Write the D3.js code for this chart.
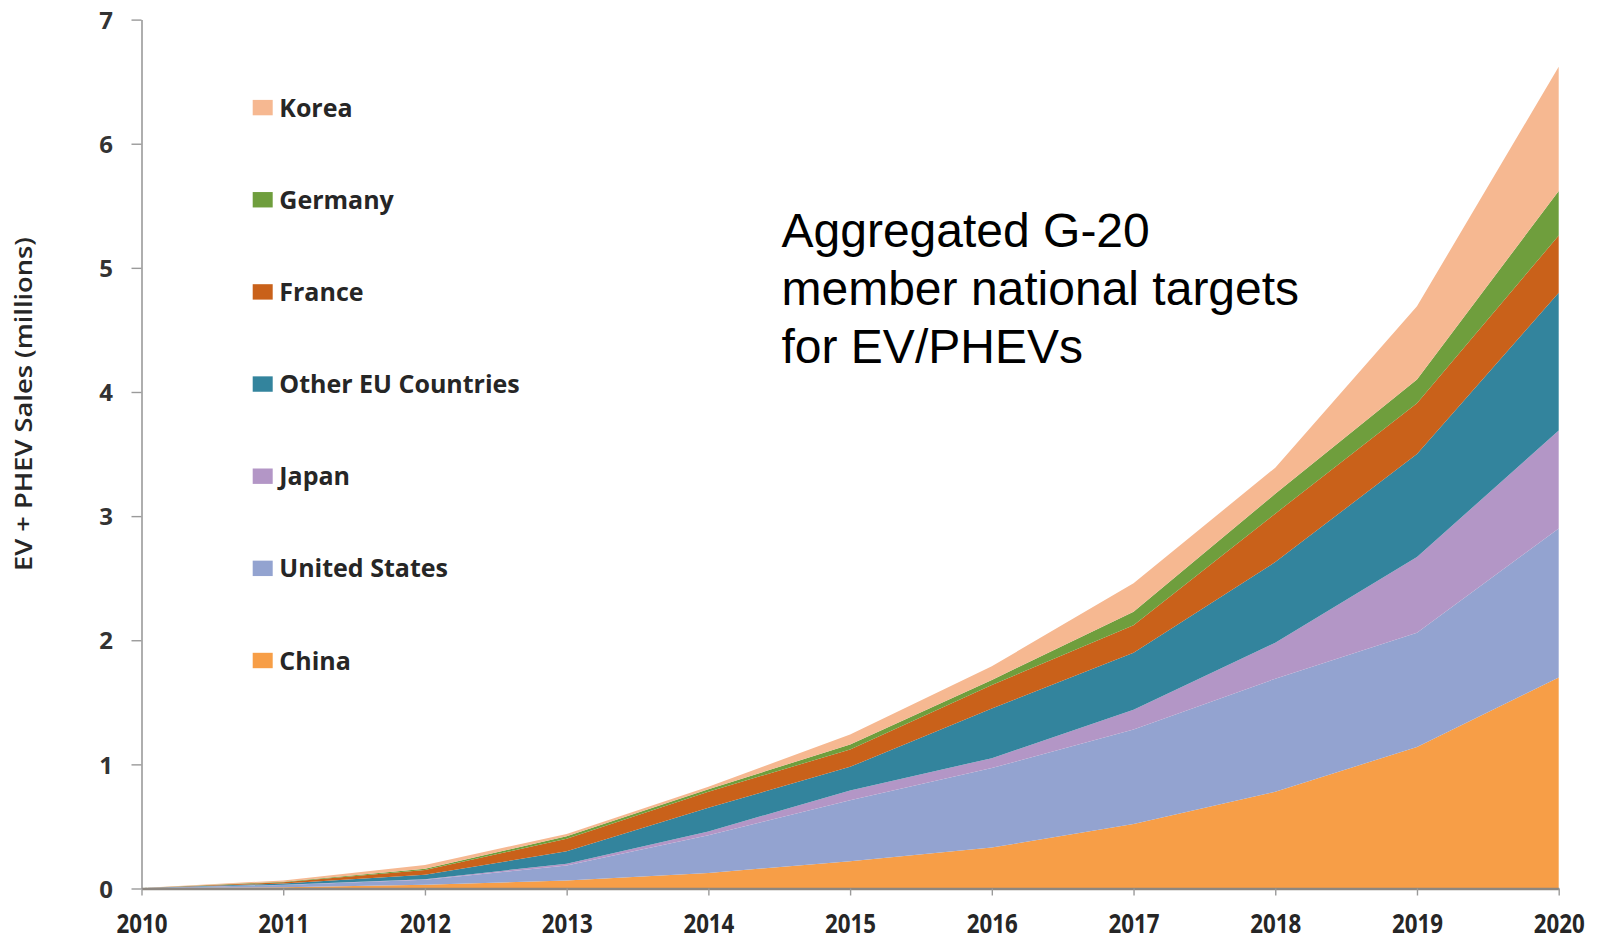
<!DOCTYPE html>
<html>
<head>
<meta charset="utf-8">
<script src="https://cdn.jsdelivr.net/npm/d3@7/dist/d3.min.js"></script>
<style>
  html, body { margin: 0; padding: 0; background: #ffffff; }
  svg { display: block; }
</style>
</head>
<body>
<svg id="chart" width="1600" height="941"></svg>
<script>
// Years on the horizontal axis
const years = [2010, 2011, 2012, 2013, 2014, 2015, 2016, 2017, 2018, 2019, 2020];

// EV + PHEV sales targets per country group (millions), stacked bottom to top
const china          = [0.005, 0.010, 0.030, 0.065, 0.125, 0.22, 0.33, 0.52, 0.78, 1.14, 1.70];
const unitedStates   = [0.000, 0.018, 0.040, 0.120, 0.305, 0.49, 0.64, 0.76, 0.91, 0.92, 1.20];
const japan          = [0.000, 0.002, 0.005, 0.015, 0.030, 0.08, 0.08, 0.16, 0.29, 0.61, 0.79];
const otherEU        = [0.000, 0.010, 0.035, 0.100, 0.190, 0.19, 0.40, 0.46, 0.65, 0.83, 1.11];
const france         = [0.000, 0.010, 0.040, 0.100, 0.130, 0.14, 0.19, 0.22, 0.39, 0.41, 0.46];
const germany        = [0.000, 0.005, 0.010, 0.020, 0.020, 0.04, 0.04, 0.11, 0.16, 0.19, 0.36];
const korea          = [0.000, 0.010, 0.030, 0.020, 0.020, 0.08, 0.11, 0.23, 0.21, 0.59, 1.00];

const seriesNames  = ["China", "United States", "Japan", "Other EU Countries", "France", "Germany", "Korea"];
const seriesValues = [china, unitedStates, japan, otherEU, france, germany, korea];
const seriesColors = ["#f79e47", "#93a3d0", "#b396c6", "#33849d", "#c9611a", "#6f9e3d", "#f6b891"];

const yTicks = [0, 1, 2, 3, 4, 5, 6, 7];
const yTitle = "EV + PHEV Sales (millions)";
const noteLines = ["Aggregated G-20", "member national targets", "for EV/PHEVs"];

// Table for d3.stack
const table = years.map((yr, i) => {
  const row = { year: yr };
  seriesNames.forEach((name, k) => { row[name] = seriesValues[k][i]; });
  return row;
});

const svg = d3.select("#chart");

const x = d3.scaleLinear().domain([2010, 2020]).range([141.5, 1558.7]);
const y = d3.scaleLinear().domain([0, 7]).range([888.5, 19.6]);

const stacked = d3.stack().keys(seriesNames)(table);

const area = d3.area()
  .x(d => x(d.data.year))
  .y0(d => y(d[0]))
  .y1(d => y(d[1]))
  .curve(d3.curveLinear);

svg.append("g")
  .selectAll("path")
  .data(stacked)
  .join("path")
  .attr("d", area)
  .attr("fill", (d, i) => seriesColors[i]);

// Y axis
const yAxis = svg.append("g")
  .attr("transform", `translate(${x(2010)},0)`)
  .call(d3.axisLeft(y).tickValues(yTicks).tickFormat(d3.format("d")).tickSize(10).tickSizeOuter(0));
yAxis.select(".domain").attr("stroke", "#9a9a9a").attr("stroke-width", 1.6);
yAxis.selectAll(".tick line").attr("stroke", "#9a9a9a").attr("stroke-width", 1.4);
yAxis.selectAll(".tick text")
  .attr("x", -28.5)
  .attr("dy", "0.36em")
  .attr("fill", "#333333")
  .style("font-family", "'Open Sans', sans-serif")
  .style("font-weight", 700)
  .style("font-size", "24px");

// X axis
const xAxis = svg.append("g")
  .attr("transform", `translate(0,${y(0)})`)
  .call(d3.axisBottom(x).tickValues(years).tickFormat(d3.format("d")).tickSize(7).tickSizeOuter(0));
xAxis.select(".domain").attr("stroke", "#8d8781").attr("stroke-width", 2.6);
xAxis.selectAll(".tick line").attr("stroke", "#9a9a9a").attr("stroke-width", 1.4);
xAxis.selectAll(".tick text")
  .attr("y", 44)
  .attr("dy", 0)
  .attr("fill", "#262626")
  .attr("textLength", 51)
  .attr("lengthAdjust", "spacingAndGlyphs")
  .style("font-family", "'Open Sans', sans-serif")
  .style("font-weight", 700)
  .style("font-size", "27px");

// Y axis title
svg.append("text")
  .attr("transform", "translate(22.5,404) rotate(-90)")
  .attr("text-anchor", "middle")
  .attr("dominant-baseline", "central")
  .attr("fill", "#262626")
  .attr("textLength", 334)
  .attr("lengthAdjust", "spacingAndGlyphs")
  .style("font-family", "'Open Sans', sans-serif")
  .style("font-weight", 600)
  .style("font-size", "24px")
  .text(yTitle);

// Legend (top to bottom: Korea ... China)
const legendOrder = seriesNames.map((n, i) => ({ name: n, color: seriesColors[i] })).reverse();
const legend = svg.append("g");
const legendItems = legend.selectAll("g")
  .data(legendOrder)
  .join("g")
  .attr("transform", (d, i) => `translate(252.7,${107.6 + i * 92.15})`);
legendItems.append("rect")
  .attr("x", 0).attr("y", -7.7)
  .attr("width", 20).attr("height", 15.4)
  .attr("fill", d => d.color);
legendItems.append("text")
  .attr("x", 26.6).attr("y", 9)
  .attr("fill", "#262626")
  .style("font-family", "'Open Sans', sans-serif")
  .style("font-weight", 700)
  .style("font-size", "25px")
  .text(d => d.name);

// Annotation
svg.append("g")
  .selectAll("text")
  .data(noteLines)
  .join("text")
  .attr("x", 781.5)
  .attr("y", (d, i) => 247 + i * 58)
  .attr("fill", "#000000")
  .style("font-family", "'Liberation Sans', Arial, sans-serif")
  .style("font-size", "48px")
  .text(d => d);
</script>
</body>
</html>
